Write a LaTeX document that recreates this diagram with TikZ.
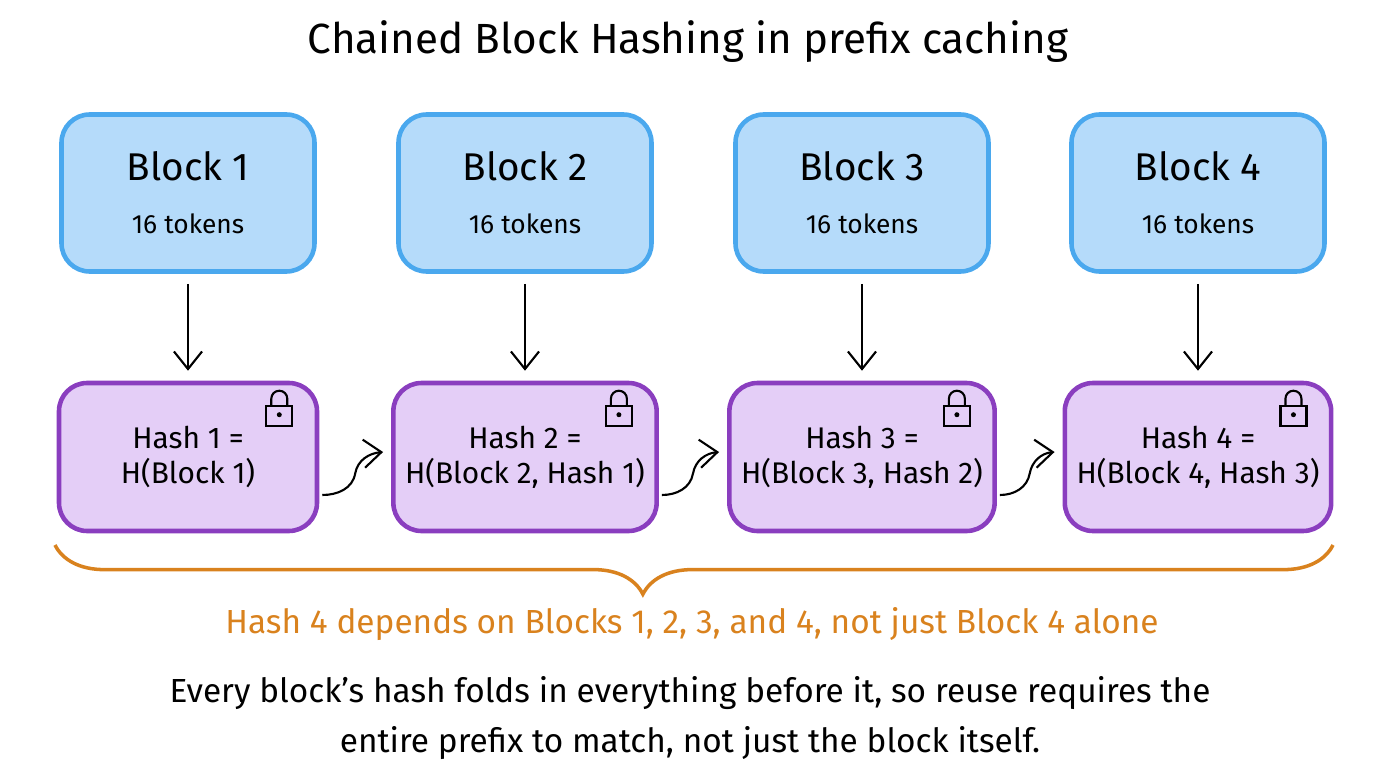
\documentclass[tikz,border=0pt]{standalone}
\usepackage{fontspec}
\setmainfont{Fira Sans}
\usetikzlibrary{positioning,arrows.meta,decorations.pathreplacing,calc}
\definecolor{blockfill}{HTML}{B5DBFA}
\definecolor{blockline}{HTML}{4AA8EE}
\definecolor{hashfill}{HTML}{E4CEF7}
\definecolor{hashline}{HTML}{8A3EBF}
\definecolor{noteorange}{HTML}{D9821E}
\tikzset{
  block/.style={draw=blockline, fill=blockfill, line width=1.3pt, rounded corners=8pt,
    minimum width=2.53cm, minimum height=1.57cm, align=center},
  hash/.style={draw=hashline, fill=hashfill, line width=1.3pt, rounded corners=8pt,
    minimum width=2.58cm, minimum height=1.48cm, align=center, font=\fontsize{8.5}{10}\selectfont},
  down/.style={-{Straight Barb[length=5pt,width=8pt]}, line width=0.6pt},
  chain/.style={-{Straight Barb[length=5pt,width=8pt]}, line width=0.6pt}
}
\newcommand{\lockicon}[1]{%
  \draw[line width=0.6pt, fill=hashfill] ($(#1)+(-0.13,-0.15)$) rectangle ($(#1)+(0.13,0.05)$);
  \draw[line width=0.6pt] ($(#1)+(-0.08,0.05)$) -- ++(0,0.07) arc(180:0:0.08) -- ++(0,-0.07);
  \fill ($(#1)+(0,-0.04)$) circle(0.025);
}
\begin{document}
\begin{tikzpicture}
  \useasboundingbox (0,0) rectangle (13.76,-7.68);
  % title
  \node (title) at (6.88,-0.42) {\fontsize{12}{14}\selectfont Chained Block Hashing in prefix caching};

  % blocks and hashes
  \foreach \i/\x in {1/1.88,2/5.25,3/8.62,4/11.98} {
    \node[block] (b\i) at (\x,-1.93) {\fontsize{11}{13}\selectfont Block \i\\[3pt]\fontsize{7.5}{9}\selectfont 16 tokens};
    \coordinate (t\i) at (\x,-4.57);
  }
  \node[hash] (h1) at (t1) {Hash 1 =\\H(Block 1)};
  \node[hash] (h2) at (t2) {Hash 2 =\\H(Block 2, Hash 1)};
  \node[hash] (h3) at (t3) {Hash 3 =\\H(Block 3, Hash 2)};
  \node[hash] (h4) at (t4) {Hash 4 =\\H(Block 4, Hash 3)};

  \foreach \i in {1,...,4} {
    \draw[down] ([yshift=-0.1cm]b\i.south) -- ([yshift=0.1cm]h\i.north);
    \lockicon{$(h\i.north east)+(-0.4,-0.3)$}
  }

  % chain connectors
  \foreach \a/\b in {1/2,2/3,3/4}
    \draw[chain] ([xshift=0.03cm,yshift=-0.38cm]h\a.east) to[out=0,in=-100] ($([yshift=-0.38cm]h\a.east)!0.5!([yshift=0.05cm]h\b.west)$)
      to[out=80,in=185] ([xshift=-0.08cm,yshift=0.05cm]h\b.west);

  % brace
  \coordinate (bl) at (0.55,-5.45);
  \coordinate (br) at (13.33,-5.45);
  \draw[noteorange, line width=1pt, decorate, decoration={brace, mirror, amplitude=14pt, aspect=0.46}] (bl) -- (br);
  \node[text=noteorange, font=\fontsize{9.5}{11}\selectfont] (note) at (6.92,-6.24)
    {Hash 4 depends on Blocks 1, 2, 3, and 4, not just Block 4 alone};

  % caption
  \node[align=center, font=\fontsize{9.5}{14}\selectfont] (caption) at (6.9,-7.18)
    {Every block’s hash folds in everything before it, so reuse requires the\\entire prefix to match, not just the block itself.};
\end{tikzpicture}
\end{document}
